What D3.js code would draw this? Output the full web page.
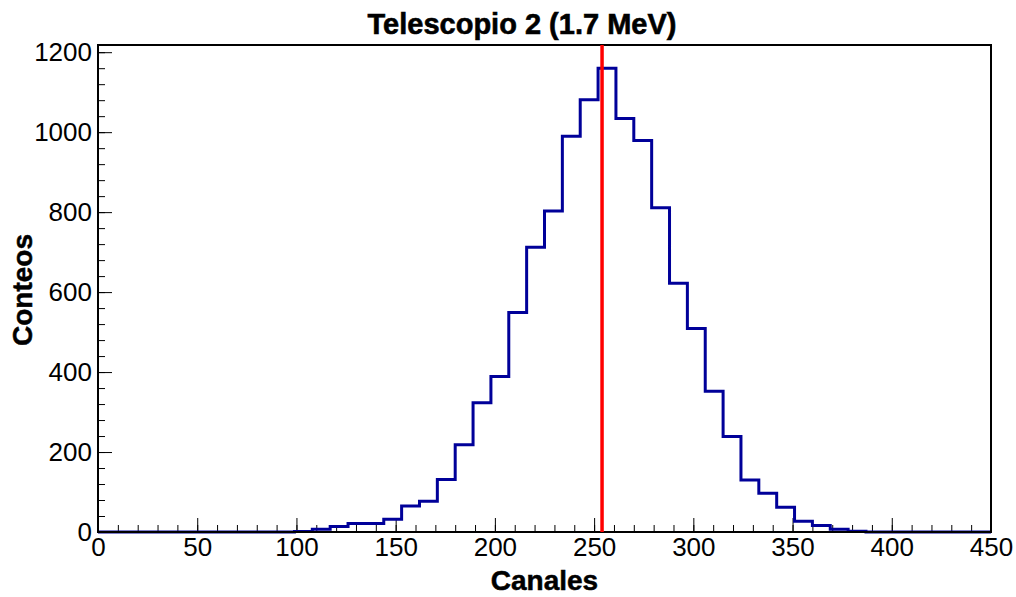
<!DOCTYPE html>
<html>
<head>
<meta charset="utf-8">
<script src="https://cdn.jsdelivr.net/npm/d3@7"></script>
<style>
  body { margin: 0; background: #fff; }
  svg text { font-family: "Liberation Sans", Arial, Helvetica, sans-serif; }
</style>
</head>
<body>
<svg id="chart" width="1016" height="597"></svg>
<script>
// histogram: 50 bins of 9 channels (0..450)
const binWidth = 9;
const counts = [
    0, 0, 0, 0, 0, 0, 0, 0, 0, 0,
    0, 1, 7, 14, 21, 21, 32, 65, 77, 131,
    218, 323, 389, 549, 712, 803, 990, 1081, 1160, 1034,
    979, 811, 622, 509, 352, 239, 130, 97, 62, 27,
    16, 7, 2, 0, 0, 0, 0, 0, 0, 0
];
const markerChannel = 254;
const xTicks = [0, 50, 100, 150, 200, 250, 300, 350, 400, 450];
const yTicks = [0, 200, 400, 600, 800, 1000, 1200];

const margin = {top: 45, right: 25, bottom: 65, left: 98};
const width = 1016 - margin.left - margin.right,
    height = 597 - margin.top - margin.bottom;

const svg = d3.select("#chart");
const g = svg.append("g")
    .attr("transform", "translate(" + margin.left + "," + margin.top + ")");

const x = d3.scaleLinear().domain([0, 450]).range([0, width]);
const y = d3.scaleLinear().domain([0, d3.max(counts) * 1.05]).range([height, 0]);

// minor ticks first (no labels)
g.append("g")
    .attr("transform", "translate(0," + height + ")")
    .call(d3.axisBottom(x).tickValues(d3.range(0, 451, 10)).tickSize(-7).tickFormat(""))
    .call(a => a.select(".domain").remove());
g.append("g")
    .call(d3.axisLeft(y).tickValues(d3.range(0, 1201, 40)).tickSize(-7).tickFormat(""))
    .call(a => a.select(".domain").remove());

// major ticks with labels
const gx = g.append("g")
    .attr("transform", "translate(0," + height + ")")
    .call(d3.axisBottom(x).tickValues(xTicks).tickSize(-14).tickPadding(6).tickFormat(d3.format("d")));
gx.select(".domain").remove();
gx.selectAll("text").attr("font-size", 26).attr("fill", "#000")
    .attr("font-family", "Liberation Sans, Arial, sans-serif");

const gy = g.append("g")
    .call(d3.axisLeft(y).tickValues(yTicks).tickSize(-14).tickPadding(6).tickFormat(d3.format("d")));
gy.select(".domain").remove();
gy.selectAll("text").attr("font-size", 26).attr("fill", "#000")
    .attr("font-family", "Liberation Sans, Arial, sans-serif");

g.selectAll(".tick line").attr("stroke", "#000").attr("stroke-width", 1);

// histogram outline
const pts = [[0, 0]];
counts.forEach(function (c, i) {
    pts.push([i * binWidth, c]);
    pts.push([(i + 1) * binWidth, c]);
});
pts.push([450, 0]);
const line = d3.line().x(d => x(d[0])).y(d => y(d[1]));
g.append("path")
    .attr("d", line(pts))
    .attr("fill", "none")
    .attr("stroke", "#000099")
    .attr("stroke-width", 3);

// frame
g.append("rect")
    .attr("x", 0).attr("y", 0)
    .attr("width", width).attr("height", height)
    .attr("fill", "none")
    .attr("stroke", "#000")
    .attr("stroke-width", 2);

// red marker line
g.append("line")
    .attr("x1", x(markerChannel)).attr("x2", x(markerChannel))
    .attr("y1", 0).attr("y2", height)
    .attr("stroke", "#ff0000")
    .attr("stroke-width", 3.5);

// titles
svg.append("text")
    .attr("x", 522).attr("y", 34)
    .attr("text-anchor", "middle")
    .attr("font-size", 29).attr("font-weight", "bold")
    .attr("stroke", "#000").attr("stroke-width", 0.6)
    .text("Telescopio 2 (1.7 MeV)");

svg.append("text")
    .attr("x", margin.left + x(225)).attr("y", 590)
    .attr("text-anchor", "middle")
    .attr("font-size", 28).attr("font-weight", "bold")
    .attr("stroke", "#000").attr("stroke-width", 0.5)
    .text("Canales");

svg.append("text")
    .attr("transform", "translate(32,290) rotate(-90)")
    .attr("text-anchor", "middle")
    .attr("font-size", 28).attr("font-weight", "bold")
    .attr("stroke", "#000").attr("stroke-width", 0.5)
    .text("Conteos");
</script>
</body>
</html>
